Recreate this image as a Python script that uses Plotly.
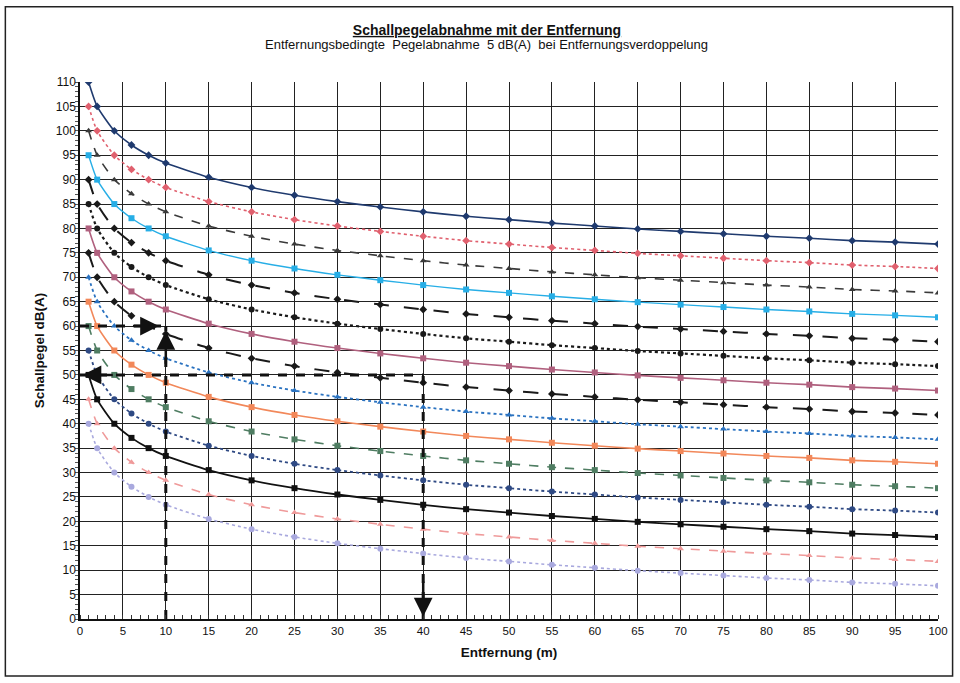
import plotly.graph_objects as go

# Distances (m) at which the markers sit
distance = [1, 2, 4, 6, 8, 10, 15, 20, 25, 30, 35, 40, 45, 50, 55, 60, 65, 70, 75, 80, 85, 90, 95, 100]

# Sound level series dB(A)
s110 = [110, 105, 100, 97.1, 95, 93.4, 90.5, 88.4, 86.8, 85.5, 84.4, 83.4, 82.5, 81.8, 81.1, 80.5, 79.9, 79.4, 78.9, 78.4, 78.0, 77.5, 77.2, 76.8]
s105 = [105, 100, 95, 92.1, 90, 88.4, 85.5, 83.4, 81.8, 80.5, 79.4, 78.4, 77.5, 76.8, 76.1, 75.5, 74.9, 74.4, 73.9, 73.4, 73.0, 72.5, 72.2, 71.8]
s100 = [100, 95, 90, 87.1, 85, 83.4, 80.5, 78.4, 76.8, 75.5, 74.4, 73.4, 72.5, 71.8, 71.1, 70.5, 69.9, 69.4, 68.9, 68.4, 68.0, 67.5, 67.2, 66.8]
s95 = [95, 90, 85, 82.1, 80, 78.4, 75.5, 73.4, 71.8, 70.5, 69.4, 68.4, 67.5, 66.8, 66.1, 65.5, 64.9, 64.4, 63.9, 63.4, 63.0, 62.5, 62.2, 61.8]
s90 = [90, 85, 80, 77.1, 75, 73.4, 70.5, 68.4, 66.8, 65.5, 64.4, 63.4, 62.5, 61.8, 61.1, 60.5, 59.9, 59.4, 58.9, 58.4, 58.0, 57.5, 57.2, 56.8]
s85 = [85, 80, 75, 72.1, 70, 68.4, 65.5, 63.4, 61.8, 60.5, 59.4, 58.4, 57.5, 56.8, 56.1, 55.5, 54.9, 54.4, 53.9, 53.4, 53.0, 52.5, 52.2, 51.8]
s80 = [80, 75, 70, 67.1, 65, 63.4, 60.5, 58.4, 56.8, 55.5, 54.4, 53.4, 52.5, 51.8, 51.1, 50.5, 49.9, 49.4, 48.9, 48.4, 48.0, 47.5, 47.2, 46.8]
s75 = [75, 70, 65, 62.1, 60, 58.4, 55.5, 53.4, 51.8, 50.5, 49.4, 48.4, 47.5, 46.8, 46.1, 45.5, 44.9, 44.4, 43.9, 43.4, 43.0, 42.5, 42.2, 41.8]
s70 = [70, 65, 60, 57.1, 55, 53.4, 50.5, 48.4, 46.8, 45.5, 44.4, 43.4, 42.5, 41.8, 41.1, 40.5, 39.9, 39.4, 38.9, 38.4, 38.0, 37.5, 37.2, 36.8]
s65 = [65, 60, 55, 52.1, 50, 48.4, 45.5, 43.4, 41.8, 40.5, 39.4, 38.4, 37.5, 36.8, 36.1, 35.5, 34.9, 34.4, 33.9, 33.4, 33.0, 32.5, 32.2, 31.8]
s60 = [60, 55, 50, 47.1, 45, 43.4, 40.5, 38.4, 36.8, 35.5, 34.4, 33.4, 32.5, 31.8, 31.1, 30.5, 29.9, 29.4, 28.9, 28.4, 28.0, 27.5, 27.2, 26.8]
s55 = [55, 50, 45, 42.1, 40, 38.4, 35.5, 33.4, 31.8, 30.5, 29.4, 28.4, 27.5, 26.8, 26.1, 25.5, 24.9, 24.4, 23.9, 23.4, 23.0, 22.5, 22.2, 21.8]
s50 = [50, 45, 40, 37.1, 35, 33.4, 30.5, 28.4, 26.8, 25.5, 24.4, 23.4, 22.5, 21.8, 21.1, 20.5, 19.9, 19.4, 18.9, 18.4, 18.0, 17.5, 17.2, 16.8]
s45 = [45, 40, 35, 32.1, 30, 28.4, 25.5, 23.4, 21.8, 20.5, 19.4, 18.4, 17.5, 16.8, 16.1, 15.5, 14.9, 14.4, 13.9, 13.4, 13.0, 12.5, 12.2, 11.8]
s40 = [40, 35, 30, 27.1, 25, 23.4, 20.5, 18.4, 16.8, 15.5, 14.4, 13.4, 12.5, 11.8, 11.1, 10.5, 9.9, 9.4, 8.9, 8.4, 8.0, 7.5, 7.2, 6.8]

# Example reading: 60 dB at 10 m -> 50 dB at 40 m
example_distance = [10, 40]
example_level = [60, 50]

x_ticks = list(range(0, 101, 5))
y_ticks = list(range(0, 111, 5))

# (values, colour, dash, marker symbol, line width)
styles = [
    (s110, "#1f3a6e", "solid", "diamond", 1.6),
    (s105, "#e0606e", "dot", "diamond", 1.6),
    (s100, "#3a3a3a", "dash", "triangle-up", 1.6),
    (s95, "#27aee6", "solid", "square", 1.4),
    (s90, "#1a1a1a", "longdash", "diamond", 2.0),
    (s85, "#1a1a1a", "dot", "circle", 2.2),
    (s80, "#b0607e", "solid", "square", 1.6),
    (s75, "#1a1a1a", "longdash", "diamond", 2.0),
    (s70, "#2a72c0", "dot", "triangle-up", 1.8),
    (s65, "#f2885a", "solid", "square", 1.6),
    (s60, "#4f7d62", "dash", "square", 1.6),
    (s55, "#2f4a84", "dot", "circle", 1.8),
    (s50, "#111111", "solid", "square", 1.8),
    (s45, "#ef9a9a", "dash", "triangle-up", 1.6),
    (s40, "#a9a9de", "dot", "circle", 1.6),
]

fig = go.Figure()
for vals, col, dash, sym, w in styles:
    fig.add_trace(go.Scatter(
        x=distance, y=vals, mode="lines+markers",
        line=dict(color=col, dash=dash, width=w, shape="spline", smoothing=0.6),
        marker=dict(symbol=sym, size=6, color=col),
        showlegend=False, hoverinfo="skip",
    ))

# Example dashed guide lines
d1, d2 = example_distance
l1, l2 = example_level
guide = dict(color="#111111", width=3, dash="dash")
fig.add_trace(go.Scatter(x=[0, d1], y=[l1, l1], mode="lines", line=guide, showlegend=False, hoverinfo="skip"))
fig.add_trace(go.Scatter(x=[d1, d1], y=[0, l1], mode="lines", line=guide, showlegend=False, hoverinfo="skip"))
fig.add_trace(go.Scatter(x=[0, d2], y=[l2, l2], mode="lines", line=guide, showlegend=False, hoverinfo="skip"))
fig.add_trace(go.Scatter(x=[d2, d2], y=[0, l2], mode="lines", line=guide, showlegend=False, hoverinfo="skip"))

arrow = dict(showarrow=True, arrowhead=2, arrowsize=1.5, arrowwidth=2.5, arrowcolor="#111111",
             xref="x", yref="y", axref="x", ayref="y", text="")
fig.add_annotation(x=d1 - 0.8, y=l1, ax=d1 - 4, ay=l1, **arrow)
fig.add_annotation(x=d1, y=l1 - 1, ax=d1, ay=l1 - 8, **arrow)
fig.add_annotation(x=0.3, y=l2, ax=4, ay=l2, **arrow)
fig.add_annotation(x=d2, y=0.5, ax=d2, ay=8, **arrow)

# Subtitle
fig.add_annotation(
    text="Entfernungsbedingte  Pegelabnahme  5 dB(A)  bei Entfernungsverdoppelung",
    xref="paper", yref="paper", x=(487 - 80) / 860, y=1.0 + (82 - 45) / 537,
    xanchor="center", yanchor="middle",
    showarrow=False, font=dict(size=13, color="#111111"),
)

fig.update_layout(
    width=960, height=683,
    paper_bgcolor="white", plot_bgcolor="white",
    margin=dict(l=80, r=20, t=82, b=64),
    font=dict(family="Liberation Sans, Arial, sans-serif", size=11, color="#111111"),
    title=dict(
        text="<b><u>Schallpegelabnahme mit der Entfernung</u></b>",
        x=487 / 960, xanchor="center", y=1 - 30 / 683, yanchor="middle",
        font=dict(size=14, color="#111111"),
    ),
    xaxis=dict(
        range=[0, 100], tickvals=x_ticks, showgrid=True, gridcolor="#222222", gridwidth=1,
        showline=True, linecolor="#111111", linewidth=1.5, zeroline=False,
        ticks="", tickfont=dict(size=11.5),
        minor=dict(dtick=1, ticks="inside", ticklen=4, tickcolor="#333333", showgrid=False),
        title=dict(text="<b>Entfernung (m)</b>", font=dict(size=13.5), standoff=12),
    ),
    yaxis=dict(
        range=[0, 110], tickvals=y_ticks, showgrid=True, gridcolor="#222222", gridwidth=1,
        showline=True, linecolor="#111111", linewidth=1.5, zeroline=False,
        ticks="", tickfont=dict(size=12),
        minor=dict(dtick=1, ticks="outside", ticklen=3, tickcolor="#555555", showgrid=False),
        title=dict(text="<b>Schallpegel dB(A)</b>", font=dict(size=13.5), standoff=8),
    ),
    shapes=[dict(type="rect", xref="paper", yref="paper",
                 x0=-0.087, x1=1.017, y0=-0.106, y1=1.14,
                 line=dict(color="#222222", width=1.5))],
)

fig.write_html("out.html", config={"displayModeBar": False},
               post_script="document.body.style.margin='0px';")
